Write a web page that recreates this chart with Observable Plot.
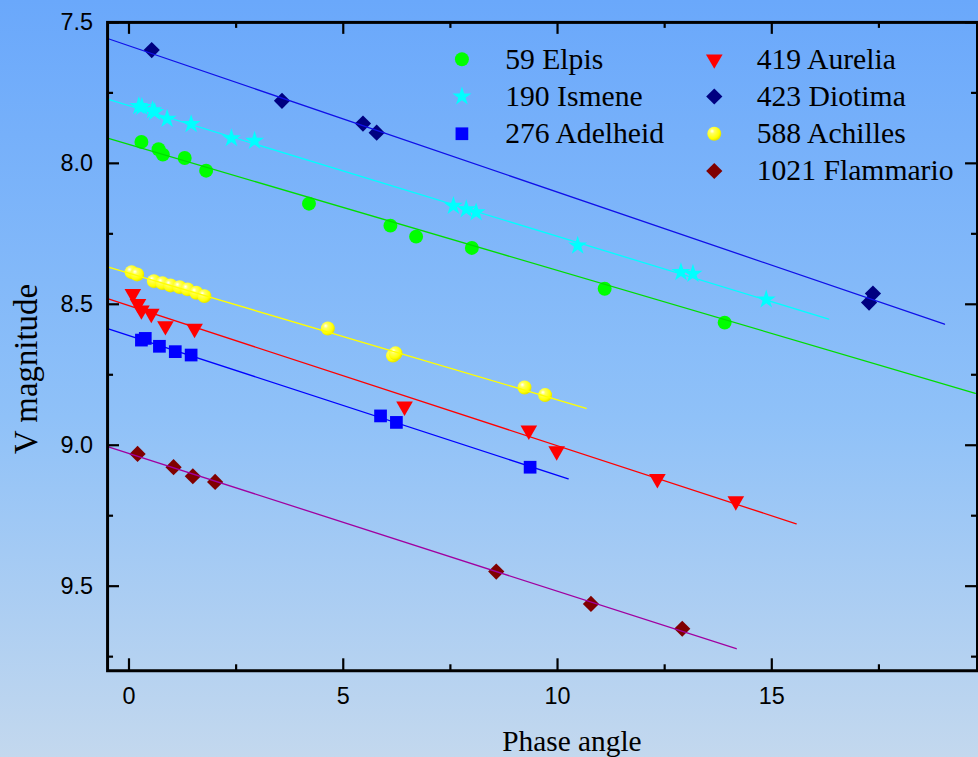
<!DOCTYPE html>
<html>
<head>
<meta charset="utf-8">
<script src="https://cdn.jsdelivr.net/npm/d3@7"></script>
<script src="https://cdn.jsdelivr.net/npm/@observablehq/plot@0.6"></script>
<style>
  html, body { margin: 0; padding: 0; overflow: hidden; }
  body { width: 978px; height: 757px; background: linear-gradient(to bottom, #6aa8fb 0%, #8fc1f8 55%, #c3d8ee 100%); }
  #chart svg { display: block; }
</style>
</head>
<body>
<div id="chart"></div>
<script>
// ---------- data ----------
const seriesNames = ["59 Elpis", "190 Ismene", "276 Adelheid", "419 Aurelia", "423 Diotima", "588 Achilles", "1021 Flammario"];

const elpisPhase = [0.29, 0.69, 0.79, 1.30, 1.80, 4.20, 6.10, 6.70, 8.00, 11.10, 13.90];
const elpisMag   = [7.924, 7.950, 7.969, 7.981, 8.026, 8.143, 8.221, 8.260, 8.300, 8.445, 8.565];

const ismenePhase = [0.23, 0.30, 0.55, 0.60, 0.89, 1.45, 2.39, 2.93, 7.57, 7.87, 8.10, 10.47, 12.88, 13.16, 14.87];
const ismeneMag   = [7.797, 7.800, 7.812, 7.818, 7.842, 7.861, 7.911, 7.920, 8.151, 8.163, 8.174, 8.292, 8.386, 8.392, 8.483];

const adelheidPhase = [0.29, 0.38, 0.71, 1.08, 1.45, 5.87, 6.24, 9.36];
const adelheidMag   = [8.627, 8.621, 8.649, 8.668, 8.680, 8.896, 8.919, 9.078];

const aureliaPhase = [0.09, 0.21, 0.29, 0.52, 0.85, 1.53, 6.43, 9.33, 9.98, 12.33, 14.16];
const aureliaMag   = [8.463, 8.498, 8.521, 8.533, 8.577, 8.586, 8.862, 8.947, 9.021, 9.119, 9.198];

const diotimaPhase = [0.53, 3.57, 5.46, 5.78, 17.27, 17.36];
const diotimaMag   = [7.598, 7.778, 7.859, 7.891, 8.494, 8.462];

const achillesPhase = [0.06, 0.19, 0.58, 0.78, 0.97, 1.18, 1.37, 1.57, 1.76, 4.64, 6.16, 6.22, 9.23, 9.71];
const achillesMag   = [8.386, 8.394, 8.418, 8.425, 8.433, 8.439, 8.447, 8.459, 8.471, 8.586, 8.682, 8.674, 8.795, 8.822];

const flammarioPhase = [0.20, 1.04, 1.49, 2.01, 8.57, 10.78, 12.91];
const flammarioMag   = [9.031, 9.078, 9.110, 9.130, 9.448, 9.563, 9.651];

// linear fits (magnitude = intercept + slope * phase), drawn from fitStart to fitEnd
const fitIntercept = [7.933, 7.795, 8.611, 8.505, 7.583, 8.390, 9.029];
const fitSlope     = [0.0447, 0.0464, 0.0496, 0.0497, 0.0519, 0.0449, 0.0489];
const fitStart = -0.5;
const fitEnd       = [19.75, 16.33, 10.25, 15.57, 19.03, 10.67, 14.17];

const xMajorTicks = [0, 5, 10, 15];
const xMinorTicks = [2.5, 7.5, 12.5, 17.5];
const yMajorTicks = [7.5, 8.0, 8.5, 9.0, 9.5];
const yMinorTicks = [7.75, 8.25, 8.75, 9.25, 9.75];
const xTitle = "Phase angle";
const yTitle = "V magnitude";

// ---------- styling ----------
const phases = [elpisPhase, ismenePhase, adelheidPhase, aureliaPhase, diotimaPhase, achillesPhase, flammarioPhase];
const mags = [elpisMag, ismeneMag, adelheidMag, aureliaMag, diotimaMag, achillesMag, flammarioMag];
const markerColors = ["#00ff00", "#00ffff", "#0000ff", "#ff0000", "#000080", "#fffe00", "#800000"];
const lineColors = ["#00dd00", "#00ffff", "#0000ff", "#ff0000", "#1010e8", "#ffff00", "#a000a0"];

const triangleDown = {
  draw(ctx, size) {
    const y = -Math.sqrt(size / (Math.sqrt(3) * 3));
    ctx.moveTo(0, -2 * y);
    ctx.lineTo(-Math.sqrt(3) * y, y);
    ctx.lineTo(Math.sqrt(3) * y, y);
    ctx.closePath();
  }
};
const diamondSq = {
  draw(ctx, size) {
    const h = Math.sqrt(size / 2);
    ctx.moveTo(0, -h); ctx.lineTo(h, 0); ctx.lineTo(0, h); ctx.lineTo(-h, 0); ctx.closePath();
  }
};
const symbols = ["circle", "star", "square", triangleDown, diamondSq, "circle", diamondSq];
const radii = [7, 6, 7.2, 6.2, 6.5, 7, 6.5];

const W = 982, H = 757;
const mL = 107.5, mR = 1, mT = 22, mB = 84;
const plotW = W - mL - mR, plotH = H - mT - mB;

const serif = "'Liberation Serif', 'Times New Roman', serif";
const sans = "'Liberation Sans', Arial, sans-serif";

const marks = [];

// dots
phases.forEach((px, i) => {
  const data = px.map((p, j) => ({phase: p, mag: mags[i][j]}));
  marks.push(Plot.dot(data, {x: "phase", y: "mag", symbol: symbols[i], r: radii[i], fill: markerColors[i], stroke: "none"}));
});

// fit lines
seriesNames.forEach((name, i) => {
  const pts = [fitStart, fitEnd[i]].map(p => ({phase: p, mag: fitIntercept[i] + fitSlope[i] * p}));
  marks.push(Plot.line(pts, {x: "phase", y: "mag", stroke: lineColors[i], strokeWidth: 1.3}));
});

// frame and ticks (inward on all four sides)
marks.push(Plot.frame({stroke: "black", strokeWidth: 3}));
const tickStyle = {stroke: "black", strokeWidth: 2.2};
marks.push(Plot.tickX(xMajorTicks, {x: d => d, insetTop: plotH - 12, ...tickStyle}));
marks.push(Plot.tickX(xMinorTicks, {x: d => d, insetTop: plotH - 6, ...tickStyle}));
marks.push(Plot.tickX(xMajorTicks, {x: d => d, insetBottom: plotH - 12, ...tickStyle}));
marks.push(Plot.tickX(xMinorTicks, {x: d => d, insetBottom: plotH - 6, ...tickStyle}));
marks.push(Plot.tickY(yMajorTicks, {y: d => d, insetRight: plotW - 12, ...tickStyle}));
marks.push(Plot.tickY(yMinorTicks, {y: d => d, insetRight: plotW - 6, ...tickStyle}));
marks.push(Plot.tickY(yMajorTicks, {y: d => d, insetLeft: plotW - 12, ...tickStyle}));
marks.push(Plot.tickY(yMinorTicks, {y: d => d, insetLeft: plotW - 6, ...tickStyle}));

// tick labels
marks.push(Plot.text(xMajorTicks, {x: d => d, text: d => String(d), frameAnchor: "bottom", dy: 25.5, lineAnchor: "middle", fontSize: 23.5, fontFamily: sans, fill: "black"}));
marks.push(Plot.text(yMajorTicks, {y: d => d, text: d => d.toFixed(1), frameAnchor: "left", dx: -14.5, textAnchor: "end", lineAnchor: "middle", fontSize: 23.5, fontFamily: sans, fill: "black"}));

// axis titles
marks.push(Plot.text([xTitle], {text: d => d, frameAnchor: "bottom", dx: 29.5, dy: 80.5, textAnchor: "middle", lineAnchor: "bottom", fontSize: 29.5, fontFamily: serif, fill: "black"}));
marks.push(Plot.text([yTitle], {text: d => d, frameAnchor: "left", rotate: -90, dx: -70.5, dy: 22.5, textAnchor: "middle", lineAnchor: "bottom", fontSize: 33, fontFamily: serif, fill: "black"}));

// legend (two columns)
const legendCols = [{mx: 355.8, tx: 399.2}, {mx: 609.2, tx: 651.8}];
seriesNames.forEach((name, i) => {
  const col = i < 3 ? 0 : 1;
  const row = i < 3 ? i : i - 3;
  const dy = 37 + row * 37.4;
  marks.push(Plot.dot([name], {frameAnchor: "top-left", dx: legendCols[col].mx, dy, symbol: symbols[i], r: radii[i], fill: markerColors[i], stroke: "none"}));
  marks.push(Plot.text([name], {text: d => d, frameAnchor: "top-left", dx: legendCols[col].tx, dy, textAnchor: "start", lineAnchor: "middle", fontSize: 29.8, fontFamily: serif, fill: "black"}));
});

const chart = Plot.plot({
  width: W, height: H,
  marginLeft: mL, marginRight: mR, marginTop: mT, marginBottom: mB,
  x: {domain: [-0.5, 19.8], axis: null},
  y: {domain: [7.5, 9.8], reverse: true, axis: null},
  style: {background: "transparent", overflow: "visible"},
  marks
});

// sphere shading for the Achilles markers
const ns = "http://www.w3.org/2000/svg";
const defs = document.createElementNS(ns, "defs");
defs.innerHTML = '<radialGradient id="sph" cx="38%" cy="36%" r="62%" fx="34%" fy="30%">' +
  '<stop offset="0" stop-color="#ffffff"/><stop offset="0.28" stop-color="#ffff60"/>' +
  '<stop offset="0.8" stop-color="#ffff00"/><stop offset="1" stop-color="#e6e600"/></radialGradient>';
chart.insertBefore(defs, chart.firstChild);
d3.select(chart).selectAll('[fill="#fffe00"]').attr("fill", "url(#sph)");

document.getElementById("chart").appendChild(chart);
</script>
</body>
</html>
